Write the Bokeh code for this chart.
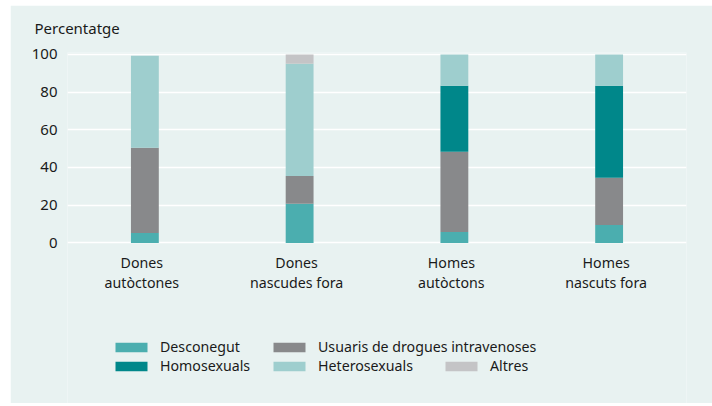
from bokeh.plotting import figure
from bokeh.models import Range1d, FactorRange, Legend, LegendItem, FixedTicker, LabelSet, ColumnDataSource
from bokeh.core.properties import value
from bokeh.embed import file_html
from bokeh.resources import INLINE

categories = ["Dones autòctones", "Dones nascudes fora", "Homes autòctons", "Homes nascuts fora"]
label_line1 = ["Dones", "Dones", "Homes", "Homes"]
label_line2 = ["autòctones", "nascudes fora", "autòctons", "nascuts fora"]
series = ["Desconegut", "Usuaris de drogues intravenoses", "Homosexuals", "Heterosexuals", "Altres"]
desconegut = [5.3, 20.7, 5.8, 9.5]
idu = [45.2, 14.8, 42.5, 25.0]
homo = [0.0, 0.0, 35.0, 48.8]
hetero = [48.8, 59.5, 16.7, 16.7]
altres = [0.0, 5.0, 0.0, 0.0]
y_ticks = [0, 20, 40, 60, 80, 100]

colors = ["#4baeaf", "#88898b", "#00878a", "#9ecece", "#c4c4c6"]
BG = "#e8f2f1"
FONT = "Noto Sans"
TXT = "#1a1a1a"

data = dict(x=categories, s0=desconegut, s1=idu, s2=homo, s3=hetero, s4=altres)

p = figure(x_range=FactorRange(*categories), y_range=Range1d(-85.2, 101),
           width=702, height=398, output_backend="svg", toolbar_location=None,
           min_border_left=57, min_border_right=26, min_border_top=47, min_border_bottom=0)
p.margin = (5, 0, 0, 10)

renderers = p.vbar_stack(["s0", "s1", "s2", "s3", "s4"], x="x", width=0.18, color=colors,
                         source=data, line_color=None)

p.background_fill_color = BG
p.border_fill_color = BG
p.outline_line_color = None

p.xaxis.visible = False
p.xgrid.grid_line_color = None
p.ygrid.grid_line_color = "white"
p.ygrid.grid_line_width = 1.6
p.ygrid.ticker = FixedTicker(ticks=y_ticks)

p.yaxis.ticker = FixedTicker(ticks=y_ticks)
ax = p.yaxis[0]
ax.axis_line_color = None
ax.major_tick_line_color = None
ax.minor_tick_line_color = None
ax.major_label_text_font = FONT
ax.major_label_text_font_size = "15px"
ax.major_label_text_color = TXT
ax.major_label_standoff = 4

lab_src = ColumnDataSource(dict(x=categories, l1=label_line1, l2=label_line2))
for col, ys in (("l1", 141), ("l2", 121)):
    p.add_layout(LabelSet(x="x", y=ys, y_units="screen", text=col, source=lab_src,
                          x_offset=-3,
                          text_align="center", text_baseline="middle",
                          text_font=value(FONT), text_font_size=value("14.2px"), text_color=TXT))

p.title.text = "Percentatge"
p.title.align = "left"
p.title.vertical_align = "top"
p.title.offset = -33
p.title.text_font = FONT
p.title.text_font_size = "15px"
p.title.text_font_style = "normal"
p.title.text_color = TXT
p.title.standoff = 25

cols = [[0, 2], [1, 3], [4]]
xs = [44, 202, 374]
for col, x in zip(cols, xs):
    items = [LegendItem(label=series[i], renderers=[renderers[i]]) for i in col]
    leg = Legend(items=items, location=(x, 28), orientation="vertical",
                 glyph_width=40, glyph_height=12, label_standoff=9, spacing=0,
                 padding=0, margin=0, background_fill_alpha=0, border_line_color=None,
                 label_text_font=FONT, label_text_font_size="14.2px", label_text_color=TXT,
                 label_height=18)
    p.add_layout(leg, "center")

open("out.html", "w").write(file_html(p, INLINE))
